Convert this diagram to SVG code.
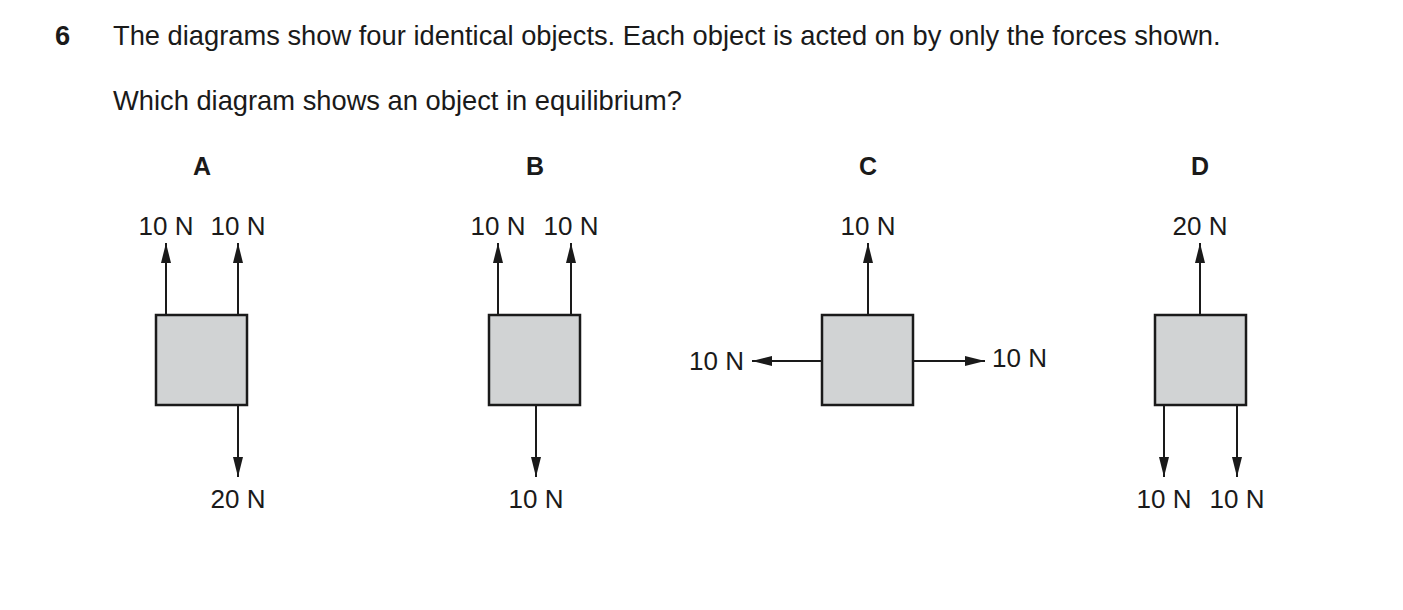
<svg xmlns="http://www.w3.org/2000/svg" width="1403" height="610" viewBox="0 0 1403 610">
<defs><marker id="ah" viewBox="0 0 20 10" refX="20" refY="5" markerWidth="20" markerHeight="10" markerUnits="userSpaceOnUse" orient="auto"><path d="M0,0 L20,5 L0,10 z" fill="#1a1a1a"/></marker></defs>
<style>
text{font-family:"Liberation Sans",Arial,sans-serif;fill:#1a1a1a}
.t{font-size:27.3px}.l{font-size:26px}.h{font-size:25px;font-weight:bold}
.box{fill:#d1d3d4;stroke:#1a1a1a;stroke-width:2.5}
.a{stroke:#1a1a1a;stroke-width:2;fill:none;marker-end:url(#ah)}
</style>
<rect width="1403" height="610" fill="#fff"/>
<text class="t" x="55" y="45" font-weight="bold">6</text>
<text class="t" x="113" y="45">The diagrams show four identical objects. Each object is acted on by only the forces shown.</text>
<text class="t" x="113" y="110">Which diagram shows an object in equilibrium?</text>
<g id="A"><text class="h" x="202" y="175" text-anchor="middle">A</text><rect class="box" x="156" y="315" width="91" height="90"/>
<text class="l" x="166" y="235" text-anchor="middle">10 N</text><text class="l" x="238" y="235" text-anchor="middle">10 N</text><text class="l" x="238" y="508" text-anchor="middle">20 N</text></g>
<g id="B"><text class="h" x="535" y="175" text-anchor="middle">B</text><rect class="box" x="489" y="315" width="91" height="90"/>
<text class="l" x="498" y="235" text-anchor="middle">10 N</text><text class="l" x="571" y="235" text-anchor="middle">10 N</text><text class="l" x="536" y="508" text-anchor="middle">10 N</text></g>
<g id="C"><text class="h" x="868" y="175" text-anchor="middle">C</text><rect class="box" x="822" y="315" width="91" height="90"/>
<text class="l" x="868" y="235" text-anchor="middle">10 N</text><text class="l" x="744" y="370" text-anchor="end">10 N</text><text class="l" x="992" y="367">10 N</text></g>
<g id="D"><text class="h" x="1200" y="175" text-anchor="middle">D</text><rect class="box" x="1155" y="315" width="91" height="90"/>
<text class="l" x="1200" y="235" text-anchor="middle">20 N</text><text class="l" x="1164" y="508" text-anchor="middle">10 N</text><text class="l" x="1237" y="508" text-anchor="middle">10 N</text></g>
<g id="connectors">
<path class="a" d="M166,314V243"/><path class="a" d="M238,314V243"/><path class="a" d="M238,406V477"/>
<path class="a" d="M498,314V243"/><path class="a" d="M571,314V243"/><path class="a" d="M536,406V477"/>
<path class="a" d="M868,314V243"/><path class="a" d="M821,361H752"/><path class="a" d="M914,361H985"/>
<path class="a" d="M1200,314V243"/><path class="a" d="M1164,406V477"/><path class="a" d="M1237,406V477"/>
</g>
</svg>
